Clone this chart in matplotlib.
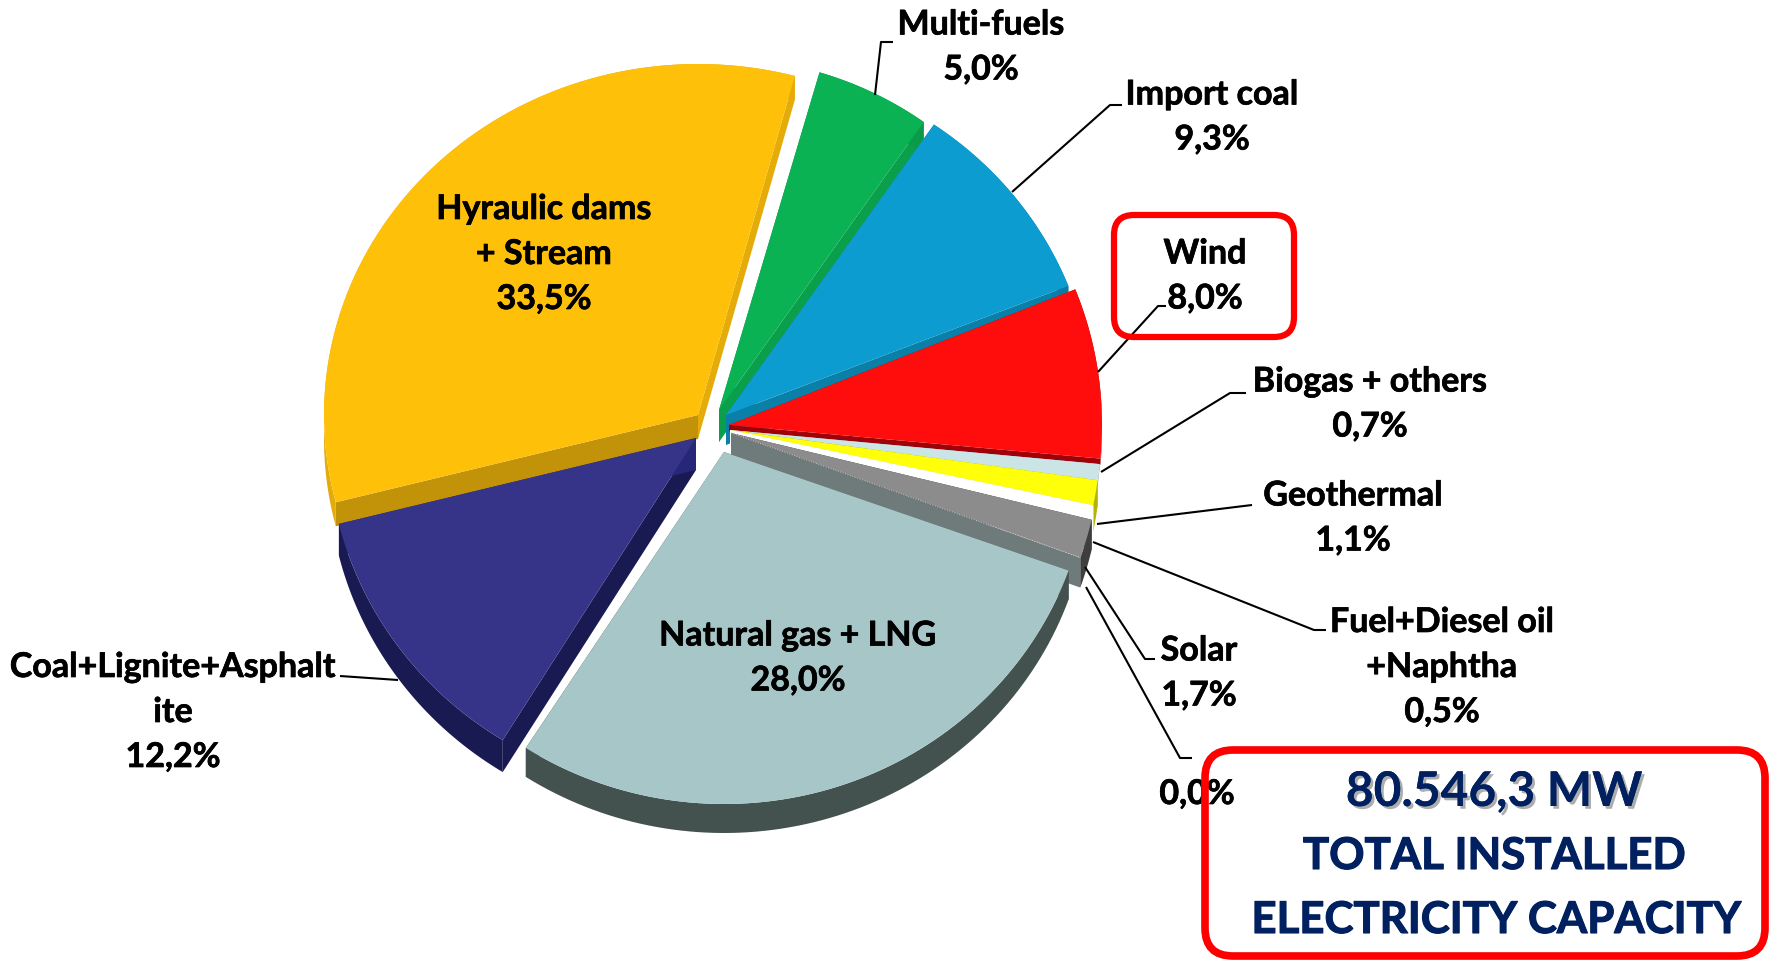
#3D pie of installed capacity
import numpy as np
import matplotlib
matplotlib.use('Agg')
import matplotlib.pyplot as plt
from matplotlib.patches import Polygon, FancyBboxPatch
import matplotlib.patheffects as pe

plt.rcParams['font.family'] = ['Lato', 'DejaVu Sans']

#Data, clockwise from the top
names = ['Multi-fuels', 'Import coal', 'Wind', 'Biogas + others', 'Geothermal',
         'Fuel+Diesel oil\n+Naphtha', 'Solar', '', 'Natural gas + LNG',
         'Coal+Lignite+Asphalt\nite', 'Hyraulic dams\n+ Stream']
shares = [5.0, 9.3, 8.0, 0.7, 1.1, 0.5, 1.7, 0.0, 28.0, 12.2, 33.5]
share_text = ['5,0%', '9,3%', '8,0%', '0,7%', '1,1%', '0,5%', '1,7%', '0,0%', '28,0%', '12,2%', '33,5%']
tops = ['#0BB253', '#0D9CD0', '#FF0D0D', '#CBE5E6', '#FFFF0A', '#FFFFFF', '#8C8C8C', '#6F7B7B',
        '#A7C6C8', '#353488', '#FFC00A']
rims = ['#0A9A48', '#0A7CA4', '#A00008', '#9DB6B7', '#B3B300', '#FFFFFF', '#3E3E3E', '#6F7B7B',
        '#44524F', '#1A1A52', '#E5AB08']
face_begin = ['#0BA04B', '#0A7CA4', '#A00008', '#9DB6B7', '#B3B300', '#FFFFFF', '#3E3E3E', '#6F7B7B',
              '#44524F', '#1A1A52', '#C29208']
face_end = ['#0AA04B', '#0A7FA8', '#A00008', '#9DB6B7', '#B3B300', '#FFFFFF', '#6F7B7B', '#6F7B7B',
            '#44524F', '#27277A', '#E5AB08']
# apex of every slice in pixels
apex_x = [719, 726, 729, 730, 730, 730, 731, 731, 724, 696, 698]
apex_y = [410, 415, 425, 430, 430, 430, 433, 433, 452, 438, 415]
depth = [32, 30, 6, 6, 26, 26, 30, 30, 29, 32, 24]
radius_x = [356, 368, 373, 371, 371, 371, 371, 371, 366, 368, 374]
radius_y = [352, 352, 365, 370, 370, 370, 370, 370, 352, 355, 351]
# small angle corrections for the tilted view
nudge_begin = [1.4, 1.4, 1.7, 0, 0, 0, 0, 0, 0, 1.2, 1.2]
nudge_end = [2.1, 2, 0, 0, 0, 0, 0, 0, 2.3, 1.6, 0]

start = 15

W, H = 1769, 960
fig = plt.figure(figsize=(W / 100, H / 100), dpi=100)
ax = fig.add_axes([0, 0, 1, 1])
ax.set_xlim(0, W)
ax.set_ylim(H, 0)
ax.axis('off')

ends = start + np.cumsum(shares) * 3.6
begins = ends - np.array(shares) * 3.6

order = [10, 0, 1, 2, 3, 4, 5, 6, 7, 9, 8]
for z, i in enumerate(order):
    t = np.radians(np.linspace(begins[i] + nudge_begin[i], ends[i] + nudge_end[i], 80))
    x = apex_x[i] + radius_x[i] * np.sin(t)
    y = apex_y[i] - radius_y[i] * np.cos(t)
    d = depth[i]
    if shares[i] == 0:
        ax.plot([apex_x[i], x[0]], [apex_y[i], y[0]], color='#C8C8C8', lw=0.7, ls=':', zorder=z + 1.5)
        continue
    # the two cut faces
    for k, col in [(0, face_begin[i]), (-1, face_end[i])]:
        ax.add_patch(Polygon([(apex_x[i], apex_y[i]), (x[k], y[k]), (x[k], y[k] + d), (apex_x[i], apex_y[i] + d)],
                             closed=True, fc=col, ec='none', zorder=z + 1))
    # outer rim
    rim = np.column_stack([np.r_[x, x[::-1]], np.r_[y, y[::-1] + d]])
    ax.add_patch(Polygon(rim, closed=True, fc=rims[i], ec='none', zorder=z + 1))
    top = np.column_stack([np.r_[apex_x[i], x], np.r_[apex_y[i], y]])
    ax.add_patch(Polygon(top, closed=True, fc=tops[i], ec='none', zorder=z + 1))

# leader lines
leaders = [
    ([875, 881, 893], [95, 42, 42]),
    ([1012, 1110, 1122], [192, 105, 105]),
    ([1098, 1158, 1166], [372, 306, 306]),
    ([1101, 1230, 1246], [472, 393, 393]),
    ([1097, 1252], [524, 505]),
    ([1093, 1314, 1326], [542, 630, 630]),
    ([1085, 1145, 1155], [567, 659, 659]),
    ([1086, 1180, 1192], [587, 758, 758]),
    ([340, 398], [676, 680]),
]
for lx, ly in leaders:
    ax.plot(lx, ly, color='black', lw=1.5, zorder=20, solid_capstyle='butt')

# labels, position of the text centre in pixels
label_x = [981, 1212, 1205, 1370, 1353, 1442, 1199, 1197, 798, 173, 544]
label_y = [47, 117, 276, 404, 518, 667, 673, 794, 658, 712, 254]
bold = [pe.withStroke(linewidth=0.5, foreground='black')]
for i in range(len(names)):
    txt = names[i] + '\n' + share_text[i] if names[i] else share_text[i]
    ax.text(label_x[i], label_y[i], txt, ha='center', va='center', fontsize=24.5, fontweight='bold',
            color='black', linespacing=1.5, zorder=30, path_effects=bold)

# red boxes
ax.add_patch(FancyBboxPatch((1114, 215), 180, 122, boxstyle='round,pad=0,rounding_size=20',
                            fc='none', ec='#FE0000', lw=4.5, zorder=25))
ax.add_patch(FancyBboxPatch((1205, 750), 560, 206, boxstyle='round,pad=0,rounding_size=28',
                            fc='none', ec='#FE0000', lw=5.5, zorder=31))

navy = '#002060'
heavy = [pe.withStroke(linewidth=0.8, foreground=navy)]
ax.text(1494, 792, '80.546,3 MW', ha='center', va='center', fontsize=34.5, fontweight='bold', color=navy, zorder=32,
        path_effects=[pe.withSimplePatchShadow(offset=(2, -2), shadow_rgbFace='#777777', alpha=0.6), pe.Normal()])
ax.text(1494, 856, 'TOTAL INSTALLED', ha='center', va='center', fontsize=31.5, fontweight='bold', color=navy, zorder=32,
        path_effects=heavy)
ax.text(1496, 920, 'ELECTRICITY CAPACITY', ha='center', va='center', fontsize=31.5, fontweight='bold', color=navy, zorder=32,
        path_effects=heavy)

fig.savefig('out.png', dpi=100)
